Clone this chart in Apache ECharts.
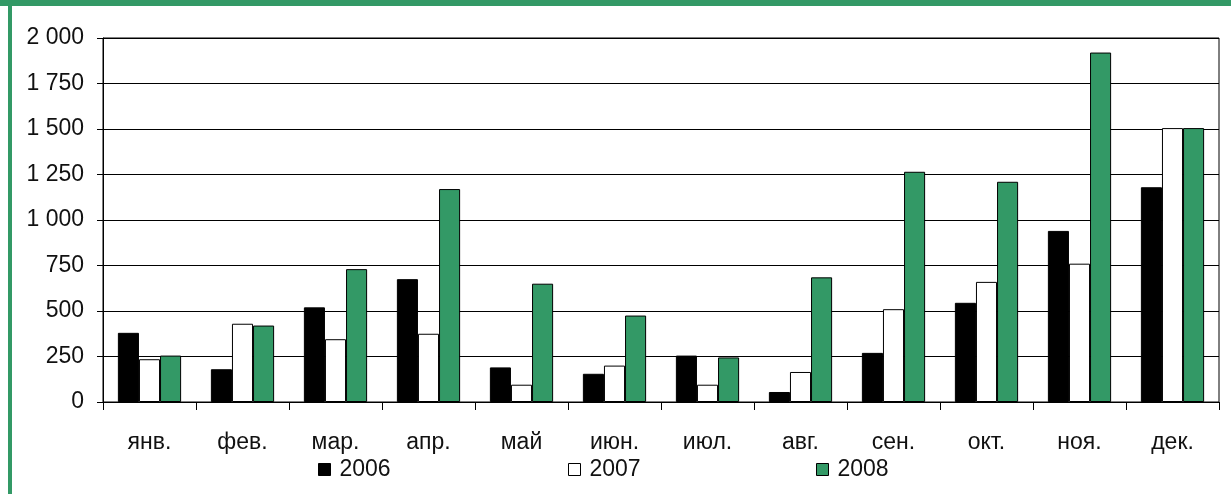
<!DOCTYPE html>
<html>
<head>
<meta charset="utf-8">
<script src="https://cdn.jsdelivr.net/npm/echarts@6/dist/echarts.min.js"></script>
<style>
html,body{margin:0;padding:0;background:#fff;}
#chart{width:1231px;height:494px;}
</style>
</head>
<body>
<div id="chart"></div>
<script>
const categories = ['янв.', 'фев.', 'мар.', 'апр.', 'май', 'июн.', 'июл.', 'авг.', 'сен.', 'окт.', 'ноя.', 'дек.'];
const seriesNames = ['2006', '2007', '2008'];
const values2006 = [380, 180, 520, 675, 190, 155, 255, 55, 270, 545, 940, 1180];
const values2007 = [235, 430, 345, 375, 95, 200, 95, 165, 510, 660, 760, 1505];
const values2008 = [255, 420, 730, 1170, 650, 475, 245, 685, 1265, 1210, 1920, 1505];
const yTicks = {min: 0, max: 2000, interval: 250};

const GREEN = '#339966';
const FONT = 'Liberation Sans';
const TXT = '#111';

function fmt(v) {
  const s = String(v);
  return s.length > 3 ? s.slice(0, s.length - 3) + ' ' + s.slice(-3) : s;
}

const chart = echarts.init(document.getElementById('chart'), null, {renderer: 'canvas'});

const fills = ['#000000', '#ffffff', GREEN];
const dataSets = [values2006, values2007, values2008];
const legendLefts = [318, 568, 816];

const option = {
  animation: false,
  backgroundColor: '#ffffff',
  grid: {left: 103, right: 12, top: 38, bottom: 92, show: true, borderColor: '#000', borderWidth: 1, backgroundColor: 'transparent'},
  legend: seriesNames.map((n, i) => ({
    left: legendLefts[i],
    top: 458,
    itemWidth: 12,
    itemHeight: 12,
    icon: 'rect',
    padding: 0,
    data: [{name: n, itemStyle: {color: fills[i], borderColor: '#000', borderWidth: 1}}],
    textStyle: {fontFamily: FONT, fontSize: 23, color: TXT, padding: [0, 0, 0, 4]}
  })),
  xAxis: {
    type: 'category',
    data: categories,
    boundaryGap: true,
    axisLine: {show: true, lineStyle: {color: '#000', width: 1}},
    axisTick: {show: true, length: 8, lineStyle: {color: '#000', width: 1}, alignWithLabel: false},
    axisLabel: {fontFamily: FONT, fontSize: 23, color: TXT, margin: 29, interval: 0}
  },
  yAxis: {
    type: 'value',
    min: yTicks.min,
    max: yTicks.max,
    interval: yTicks.interval,
    axisLine: {show: true, lineStyle: {color: '#000', width: 1}},
    axisTick: {show: true, length: 6, lineStyle: {color: '#000', width: 1}},
    splitLine: {show: true, lineStyle: {color: '#000', width: 1}},
    axisLabel: {fontFamily: FONT, fontSize: 23, color: TXT, margin: 19, formatter: fmt}
  },
  series: seriesNames.map((n, i) => ({
    name: n,
    type: 'bar',
    data: dataSets[i],
    barGap: '0%',
    barCategoryGap: '32%',
    itemStyle: {color: fills[i], borderColor: '#000', borderWidth: 1}
  })),
  graphic: [
    {type: 'rect', left: 0, top: 0, shape: {width: 1231, height: 6}, style: {fill: GREEN}, z: 100},
    {type: 'rect', left: 8, top: 0, shape: {width: 4, height: 494}, style: {fill: GREEN}, z: 100}
  ]
};
chart.setOption(option);
</script>
</body>
</html>
